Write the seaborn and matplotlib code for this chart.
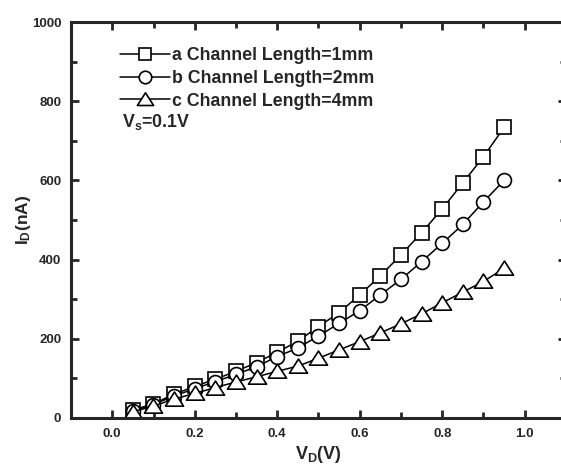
import numpy as np
import pandas as pd
import matplotlib
matplotlib.use("Agg")
import matplotlib.pyplot as plt
from matplotlib.path import Path
from matplotlib.ticker import MultipleLocator, FormatStrFormatter
import seaborn as sns

# Drain voltage sweep (V)
vd = [0.05, 0.10, 0.15, 0.20, 0.25, 0.30, 0.35, 0.40, 0.45, 0.50,
      0.55, 0.60, 0.65, 0.70, 0.75, 0.80, 0.85, 0.90, 0.95]

# Drain current (nA) for three channel lengths
id_1mm = [20, 36, 60, 80, 98, 118, 140, 166, 194, 231,
          266, 311, 359, 412, 468, 528, 594, 660, 734]
id_2mm = [18, 34, 56, 74, 92, 110, 130, 155, 177, 207,
          239, 271, 311, 350, 395, 441, 489, 546, 600]
id_4mm = [16, 30, 48, 62, 77, 91, 104, 118, 131, 151,
          172, 193, 215, 238, 263, 291, 318, 345, 378]

labels = ["a Channel Length=1mm", "b Channel Length=2mm", "c Channel Length=4mm"]
gate_note = "V$_s$=0.1V"
xlabel = "V$_D$(V)"
ylabel = "I$_D$(nA)"

sns.set_style("ticks")
plt.rcParams["font.family"] = ["Liberation Sans", "DejaVu Sans"]
plt.rcParams["font.weight"] = "bold"
plt.rcParams["mathtext.fontset"] = "custom"
plt.rcParams["mathtext.rm"] = "Liberation Sans:bold"
plt.rcParams["mathtext.it"] = "Liberation Sans:bold"
plt.rcParams["mathtext.bf"] = "Liberation Sans:bold"
plt.rcParams["mathtext.default"] = "regular"

# Wide, squat up-triangle
tri = Path([(-1.15, -0.85), (1.15, -0.85), (0, 0.95), (-1.15, -0.85)],
           [Path.MOVETO, Path.LINETO, Path.LINETO, Path.CLOSEPOLY])

fig = plt.figure(figsize=(5.61, 4.66), dpi=100)
ax = fig.add_axes([71 / 561, 1 - 418 / 466, (566 - 71) / 561, (418 - 22) / 466])

series = [(id_1mm, "s", 9.5), (id_2mm, "o", 10.0), (id_4mm, tri, 13.0)]
for vals, mk, ms in series:
    df = pd.DataFrame({"VD": vd, "ID": vals})
    sns.lineplot(data=df, x="VD", y="ID", ax=ax, color="black", linewidth=1.1,
                 marker=mk, markersize=ms, markerfacecolor="white",
                 markeredgecolor="black", markeredgewidth=1.2,
                 label=None, legend=False)

for line, lab in zip(ax.get_lines(), labels):
    line.set_label(lab)

ax.set_xlim(-0.1, 1.1)
ax.set_ylim(0, 1000)
ax.xaxis.set_major_locator(MultipleLocator(0.2))
ax.xaxis.set_minor_locator(MultipleLocator(0.1))
ax.yaxis.set_major_locator(MultipleLocator(200))
ax.yaxis.set_minor_locator(MultipleLocator(100))
ax.xaxis.set_major_formatter(FormatStrFormatter("%.1f"))

for sp in ax.spines.values():
    sp.set_visible(True)
    sp.set_linewidth(2.2)
ax.tick_params(which="both", direction="in", top=True, right=True,
               width=2.0, labelsize=9.5, pad=7)
ax.tick_params(which="major", length=6)
ax.tick_params(which="minor", length=4)
for t in ax.get_xticklabels() + ax.get_yticklabels():
    t.set_fontweight("bold")

ax.set_xlabel(xlabel, fontsize=13, fontweight="bold", labelpad=3)
ax.set_ylabel(ylabel, fontsize=12.5, fontweight="bold")
ax.yaxis.set_label_coords(-0.077, 0.5)

leg = ax.legend(loc="upper left", bbox_to_anchor=(0.099, 0.936), frameon=False,
                fontsize=12.8, handlelength=2.8, handletextpad=0.1,
                labelspacing=0.32, borderaxespad=0, borderpad=0,
                markerscale=0.9)
for t in leg.get_texts():
    t.set_fontweight("bold")
ax.text(0.104, 0.748, gate_note, transform=ax.transAxes, fontsize=12.8,
        fontweight="bold", ha="left", va="center")

fig.savefig("out.png", dpi=100)
